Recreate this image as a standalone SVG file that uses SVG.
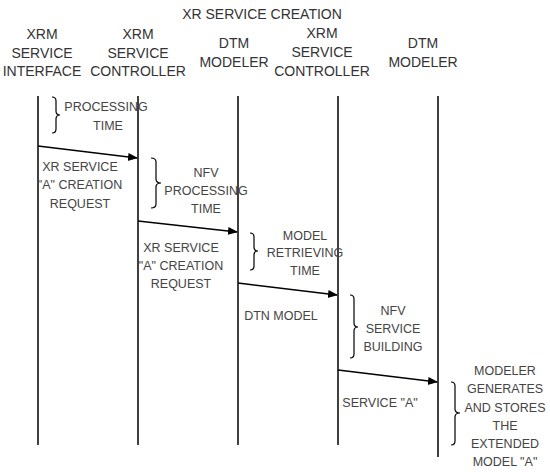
<svg xmlns="http://www.w3.org/2000/svg" width="550" height="472" viewBox="0 0 550 472">
<defs>
<style>
.h{font-family:"Liberation Sans",Arial,sans-serif;font-size:14px;fill:#333;text-anchor:middle}
.t{font-family:"Liberation Sans",Arial,sans-serif;font-size:12.5px;fill:#444;text-anchor:middle}
.life{stroke:#000;stroke-width:1.5;fill:none}
.msg{stroke:#000;stroke-width:1.5;fill:none;marker-end:url(#ah)}
.br{stroke:#000;stroke-width:1.2;fill:none}
</style>
<marker id="ah" viewBox="0 0 10 10" refX="9" refY="5" markerWidth="10" markerHeight="10" markerUnits="userSpaceOnUse" orient="auto">
<path d="M0,1 L10,5 L0,9 Z" fill="#000"/>
</marker>
</defs>
<rect width="550" height="472" fill="#fff"/>
<text class="h" x="262" y="19">XR SERVICE CREATION</text>

<g id="lifeline1">
<text class="h" x="42"><tspan x="42" y="39">XRM</tspan><tspan x="42" y="57.5">SERVICE</tspan><tspan x="42" y="76">INTERFACE</tspan></text>
<line class="life" x1="38" y1="96" x2="38" y2="445"/>
</g>
<g id="lifeline2">
<text class="h"><tspan x="138" y="39">XRM</tspan><tspan x="138" y="57.5">SERVICE</tspan><tspan x="138" y="76">CONTROLLER</tspan></text>
<line class="life" x1="138" y1="96" x2="138" y2="445"/>
</g>
<g id="lifeline3">
<text class="h"><tspan x="234" y="48">DTM</tspan><tspan x="234" y="67">MODELER</tspan></text>
<line class="life" x1="238" y1="96" x2="238" y2="445"/>
</g>
<g id="lifeline4">
<text class="h"><tspan x="322" y="38">XRM</tspan><tspan x="322" y="57">SERVICE</tspan><tspan x="322" y="76">CONTROLLER</tspan></text>
<line class="life" x1="338" y1="96" x2="338" y2="445"/>
</g>
<g id="lifeline5">
<text class="h"><tspan x="423" y="48">DTM</tspan><tspan x="423" y="67">MODELER</tspan></text>
<line class="life" x1="438" y1="96" x2="438" y2="457"/>
</g>

<g id="brace1">
<path class="br" d="M52,97 Q56,97 56,101 L56,111 Q56,115 60,115 Q56,115 56,119 L56,129 Q56,133 52,133"/>
<text class="t"><tspan x="106" y="110.5">PROCESSING</tspan><tspan x="108" y="129.5">TIME</tspan></text>
</g>
<g id="brace2">
<path class="br" d="M151,158 Q156,158 156,162 L156,179 Q156,183 161,183 Q156,183 156,187 L156,204 Q156,208 151,208"/>
<text class="t"><tspan x="206" y="177">NFV</tspan><tspan x="206" y="194.5">PROCESSING</tspan><tspan x="206" y="213">TIME</tspan></text>
</g>
<g id="brace3">
<path class="br" d="M250,233 Q254,233 254,237 L254,247 Q254,251 258,251 Q254,251 254,255 L254,266 Q254,270 250,270"/>
<text class="t"><tspan x="305" y="239.5">MODEL</tspan><tspan x="305" y="256.5">RETRIEVING</tspan><tspan x="305" y="274.5">TIME</tspan></text>
</g>
<g id="brace4">
<path class="br" d="M350,295 Q354,295 354,299 L354,323 Q354,327 358,327 Q354,327 354,331 L354,354 Q354,358 350,358"/>
<text class="t"><tspan x="393" y="314.5">NFV</tspan><tspan x="393" y="332.5">SERVICE</tspan><tspan x="393" y="350.5">BUILDING</tspan></text>
</g>
<g id="brace5">
<path class="br" d="M451,382 Q455,382 455,386 L455,409 Q455,413 460,413 Q455,413 455,417 L455,441 Q455,445 451,445"/>
<text class="t"><tspan x="505" y="374.5">MODELER</tspan><tspan x="505" y="392.5">GENERATES</tspan><tspan x="505" y="411.5">AND STORES</tspan><tspan x="505" y="429.5">THE</tspan><tspan x="505" y="447.5">EXTENDED</tspan><tspan x="505" y="465.5">MODEL "A"</tspan></text>
</g>

<g id="connectors">
<line class="msg" x1="38" y1="146" x2="137" y2="158"/>
<line class="msg" x1="138" y1="221" x2="237" y2="232"/>
<line class="msg" x1="238" y1="283" x2="337" y2="295"/>
<line class="msg" x1="338" y1="370" x2="437" y2="382"/>
<text class="t"><tspan x="80" y="170.5">XR SERVICE</tspan><tspan x="80" y="188.5">"A" CREATION</tspan><tspan x="80" y="207.5">REQUEST</tspan></text>
<text class="t"><tspan x="181" y="251.5">XR SERVICE</tspan><tspan x="181" y="269.5">"A" CREATION</tspan><tspan x="181" y="287.5">REQUEST</tspan></text>
<text class="t" x="281" y="319.5">DTN MODEL</text>
<text class="t" x="380" y="406.5">SERVICE "A"</text>
</g>
</svg>
